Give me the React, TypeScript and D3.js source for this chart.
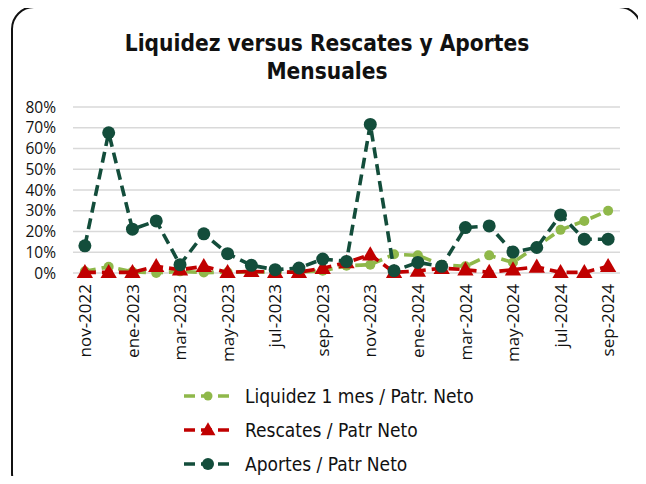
import React from 'react';
import * as d3 from 'd3';

const months = [
  'nov-2022', 'dic-2022', 'ene-2023', 'feb-2023', 'mar-2023', 'abr-2023', 'may-2023', 'jun-2023',
  'jul-2023', 'ago-2023', 'sep-2023', 'oct-2023', 'nov-2023', 'dic-2023', 'ene-2024', 'feb-2024',
  'mar-2024', 'abr-2024', 'may-2024', 'jun-2024', 'jul-2024', 'ago-2024', 'sep-2024',
];

const liquidez = [0.8, 3.0, 0.6, 0.0, 0.8, 0.2, 0.4, 0.5, 0.5, 0.5, 1.1, 3.5, 4.0, 9.0, 8.5, 4.0, 3.2, 8.5, 5.1, 12.8, 20.8, 25.1, 30.0];
const rescates = [0.3, 0.3, 0.3, 3.2, 1.6, 3.2, 0.3, 0.8, 0.4, 0.4, 2.3, 5.0, 8.8, 0.3, 1.0, 2.3, 1.6, 0.4, 1.6, 2.9, 0.3, 0.3, 3.2];
const aportes = [13.1, 67.6, 21.1, 25.1, 4.0, 18.9, 9.3, 3.7, 1.6, 2.4, 6.7, 5.6, 71.6, 1.1, 5.1, 3.2, 21.9, 22.7, 10.1, 12.3, 28.0, 16.3, 16.3];

const yTicks = [0, 10, 20, 30, 40, 50, 60, 70, 80];

const seriesList = [
  { name: 'Liquidez 1 mes / Patr. Neto', values: liquidez, color: '#8fb84a', marker: 'circle', r: 5 },
  { name: 'Rescates / Patr Neto', values: rescates, color: '#c00000', marker: 'triangle', r: 6 },
  { name: 'Aportes / Patr Neto', values: aportes, color: '#134d3b', marker: 'circle', r: 6.5 },
];

const W = 646;
const H = 484;
const plot = { left: 73, right: 620, top: 107, bottom: 273 };
const bodyFont = '"Open Sans", sans-serif';
const titleFont = '"DejaVu Sans Condensed", "DejaVu Sans", sans-serif';

function Marker({ kind, x, y, r, color }: { kind: string; x: number; y: number; r: number; color: string }) {
  if (kind === 'triangle') {
    const sym = d3.symbol().type(d3.symbolTriangle).size(r * r * 3.2)();
    return <path d={sym || ''} transform={`translate(${x},${y + 1})`} fill={color} />;
  }
  return <circle cx={x} cy={y} r={r} fill={color} />;
}

export default function App() {
  const x = d3.scaleBand<string>().domain(months).range([plot.left, plot.right]);
  const y = d3.scaleLinear().domain([0, 80]).range([plot.bottom, plot.top]);
  const cx = (m: string) => (x(m) || 0) + x.bandwidth() / 2;

  const line = d3.line<number>()
    .x((_, i) => cx(months[i]))
    .y(d => y(d));

  return (
    <div style={{ margin: -8 }}>
      <svg width={W} height={H} style={{ display: 'block', background: '#fff' }}>
        {/* outer frame, bottom edge runs just past the picture */}
        <rect x={12} y={7} width={629} height={488} rx={22} ry={22} fill="#ffffff" stroke="#111" strokeWidth={2} />

        <text x={327} y={51} textAnchor="middle" fontFamily={titleFont} fontWeight="bold" fontSize={22.5} fill="#111">
          Liquidez versus Rescates y Aportes
        </text>
        <text x={327} y={79} textAnchor="middle" fontFamily={titleFont} fontWeight="bold" fontSize={22.5} fill="#111">
          Mensuales
        </text>

        {yTicks.map(t => (
          <g key={t}>
            <line x1={plot.left} x2={plot.right} y1={y(t)} y2={y(t)} stroke="#d9d9d9" strokeWidth={1.3} />
            <text x={56} y={y(t)} dy="0.36em" textAnchor="end" fontFamily={bodyFont} fontSize={15.5} fill="#111">
              {t}%
            </text>
          </g>
        ))}

        {months.map((m, i) => i % 2 === 0 ? (
          <text
            key={m}
            transform={`translate(${cx(m)},${plot.bottom + 11}) rotate(-90)`}
            textAnchor="end"
            dy="0.36em"
            fontFamily={bodyFont}
            fontSize={17}
            fill="#111"
          >
            {m}
          </text>
        ) : null)}

        {seriesList.map(s => (
          <g key={s.name}>
            <path d={line(s.values) || ''} fill="none" stroke={s.color} strokeWidth={3.6} strokeDasharray="11,6" />
            {s.values.map((v, i) => (
              <Marker key={i} kind={s.marker} x={cx(months[i])} y={y(v)} r={s.r} color={s.color} />
            ))}
          </g>
        ))}

        {seriesList.map((s, i) => {
          const ly = 396 + i * 34;
          return (
            <g key={s.name}>
              <line x1={184} x2={233} y1={ly} y2={ly} stroke={s.color} strokeWidth={3.6} strokeDasharray="11,6" />
              <Marker kind={s.marker} x={208} y={ly} r={s.r - 0.5} color={s.color} />
              <text x={245} y={ly} dy="0.36em" fontFamily={titleFont} fontSize={19} fill="#111">
                {s.name}
              </text>
            </g>
          );
        })}
      </svg>
    </div>
  );
}
